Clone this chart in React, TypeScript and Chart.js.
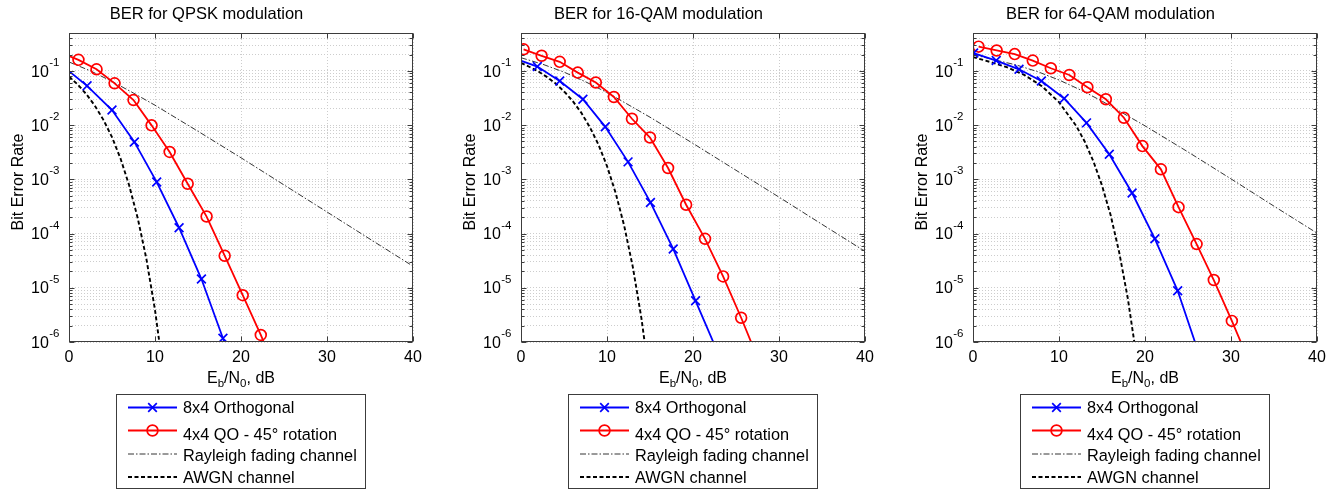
import React, { useEffect, useRef } from 'react';
import { Chart, registerables } from 'chart.js';

Chart.register(...registerables);

const FONT = '"Liberation Sans", Arial, Helvetica, sans-serif';

// ---------- QPSK ----------
const qpskTitle = 'BER for QPSK modulation';
const qpskOrthX = [-0.45, 2.1, 5.0, 7.6, 10.2, 12.8, 15.4, 17.9, 20.5];
const qpskOrthY = [0.113, 0.053, 0.019, 0.0049, 8.9e-4, 1.28e-4, 1.45e-5, 1.17e-6, 8e-8];
const qpskQoX = [-1.0, 1.1, 3.2, 5.3, 7.5, 9.6, 11.7, 13.8, 16.0, 18.1, 20.2, 22.3, 24.4];
const qpskQoY = [0.22, 0.16, 0.107, 0.059, 0.029, 0.0099, 0.0032, 8.3e-4, 2.06e-4, 3.9e-5, 7.3e-6, 1.35e-6, 2.2e-7];
const qpskRayX = [0, 2.5, 5, 7.5, 10, 15, 20, 25, 30, 35, 40];
const qpskRayY = [0.146, 0.1, 0.064, 0.039, 0.0233, 0.0077, 0.0025, 7.9e-4, 2.5e-4, 7.9e-5, 2.5e-5];
const qpskAwgnX = [0, 1, 2, 3, 4, 5, 6, 7, 8, 9, 10, 11];
const qpskAwgnY = [0.0786, 0.0563, 0.0375, 0.0229, 0.0125, 0.006, 0.0024, 7.7e-4, 1.9e-4, 3.4e-5, 3.9e-6, 2.6e-7];

// ---------- 16-QAM ----------
const qam16Title = 'BER for 16-QAM modulation';
const qam16OrthX = [-0.75, 1.9, 4.5, 7.2, 9.8, 12.45, 15.05, 17.7, 20.3, 22.9];
const qam16OrthY = [0.17, 0.12, 0.065, 0.03, 0.0093, 0.0021, 3.75e-4, 5.2e-5, 5.75e-6, 6.3e-7];
const qam16QoX = [0.3, 2.4, 4.5, 6.6, 8.7, 10.8, 12.9, 15.0, 17.1, 19.2, 21.4, 23.5, 25.6, 27.7];
const qam16QoY = [0.25, 0.19, 0.147, 0.093, 0.061, 0.033, 0.0131, 0.0059, 0.00162, 3.4e-4, 8.0e-5, 1.62e-5, 2.8e-6, 4.3e-7];
const qam16RayX = [0, 2.5, 5, 7.5, 10, 15, 20, 25, 30, 35, 40];
const qam16RayY = [0.175, 0.133, 0.095, 0.063, 0.04, 0.014, 0.0046, 0.00147, 4.7e-4, 1.48e-4, 4.7e-5];
const qam16AwgnX = [0, 1, 2, 3, 4, 5, 6, 7, 8, 9, 10, 11, 12, 13, 14, 15];
const qam16AwgnY = [0.14, 0.118, 0.098, 0.0775, 0.059, 0.0419, 0.028, 0.017, 0.0092, 0.00439, 0.00176, 5.65e-4, 1.39e-4, 2.43e-5, 2.76e-6, 1.84e-7];

// ---------- 64-QAM ----------
const qam64Title = 'BER for 64-QAM modulation';
const qam64OrthX = [0.07, 2.7, 5.35, 7.95, 10.6, 13.2, 15.85, 18.5, 21.15, 23.8, 26.45];
const qam64OrthY = [0.213, 0.155, 0.107, 0.065, 0.031, 0.011, 0.0029, 5.6e-4, 8.0e-5, 8.8e-6, 5e-7];
const qam64QoX = [0.65, 2.75, 4.85, 6.95, 9.05, 11.2, 13.3, 15.45, 17.55, 19.7, 21.85, 23.9, 26.0, 28.0, 30.1, 32.2];
const qam64QoY = [0.28, 0.238, 0.204, 0.155, 0.112, 0.084, 0.05, 0.03, 0.0137, 0.0041, 0.00153, 3.07e-4, 6.4e-5, 1.39e-5, 2.45e-6, 4e-7];
const qam64RayX = [0, 2.5, 5, 7.5, 10, 12.5, 15, 20, 25, 30, 35, 40];
const qam64RayY = [0.2, 0.16, 0.129, 0.097, 0.068, 0.0446, 0.0277, 0.0097, 0.0032, 0.00102, 3.2e-4, 1.02e-4];
const qam64AwgnX = [0, 2, 4, 6, 8, 10, 12, 13, 14, 15, 16, 17, 18, 19];
const qam64AwgnY = [0.18, 0.146, 0.116, 0.0835, 0.0523, 0.0265, 0.0097, 0.00495, 0.00215, 7.7e-4, 2.2e-4, 4.5e-5, 6.4e-6, 5.5e-7];

// ---------- shared labels / axes ----------
const legendLabels = ['8x4 Orthogonal', '4x4 QO - 45° rotation', 'Rayleigh fading channel', 'AWGN channel'];
const yAxisTitle = 'Bit Error Rate';
const xTickValues = [0, 10, 20, 30, 40];
const yDecadeExps = [-6, -5, -4, -3, -2, -1];
const yMinorMultipliers = [1, 2, 3, 4, 5, 6, 7, 8, 9];
const xMin = 0;
const xMax = 40;
const yMin = 1e-6;
const yMax = 0.5;

const panels = [
  { title: qpskTitle, orth: [qpskOrthX, qpskOrthY], qo: [qpskQoX, qpskQoY], ray: [qpskRayX, qpskRayY], awgn: [qpskAwgnX, qpskAwgnY] },
  { title: qam16Title, orth: [qam16OrthX, qam16OrthY], qo: [qam16QoX, qam16QoY], ray: [qam16RayX, qam16RayY], awgn: [qam16AwgnX, qam16AwgnY] },
  { title: qam64Title, orth: [qam64OrthX, qam64OrthY], qo: [qam64QoX, qam64QoY], ray: [qam64RayX, qam64RayY], awgn: [qam64AwgnX, qam64AwgnY] },
];

const CANVAS_W = 436;
const CANVAS_H = 489;
const PANEL_LEFTS = [0, 452, 904];

const BLUE = '#0000ff';
const RED = '#ff0000';
const RAY_COLOR = '#1e1e1e';
const AWGN_COLOR = '#000000';
const GRID_COLOR = '#cdcdcd';
const AXIS_COLOR = '#3c3c3c';

const styles = [
  { color: BLUE, width: 1.8, dash: [] as number[], marker: 'x' },
  { color: RED, width: 1.8, dash: [] as number[], marker: 'o' },
  { color: RAY_COLOR, width: 0.9, dash: [6, 2, 1.5, 2], marker: '' },
  { color: AWGN_COLOR, width: 1.9, dash: [4, 2.5], marker: '' },
];

function pts(xs: number[], ys: number[]) {
  return xs.map((x, i) => ({ x, y: ys[i] }));
}

function yGridTicks() {
  const t: { value: number }[] = [];
  yDecadeExps.forEach((e) => {
    yMinorMultipliers.forEach((m) => {
      const v = m * Math.pow(10, e);
      if (v <= yMax * 1.0000001) t.push({ value: v });
    });
  });
  return t;
}

function drawMarker(ctx: CanvasRenderingContext2D, kind: string, x: number, y: number, color: string) {
  ctx.save();
  ctx.strokeStyle = color;
  ctx.lineWidth = 1.7;
  ctx.setLineDash([]);
  if (kind === 'x') {
    const r = 4.3;
    ctx.beginPath();
    ctx.moveTo(x - r, y - r);
    ctx.lineTo(x + r, y + r);
    ctx.moveTo(x - r, y + r);
    ctx.lineTo(x + r, y - r);
    ctx.stroke();
  } else if (kind === 'o') {
    ctx.beginPath();
    ctx.arc(x, y, 5.4, 0, Math.PI * 2);
    ctx.stroke();
  }
  ctx.restore();
}

function makeDecorPlugin() {
  return {
    id: 'matlabDecor',
    afterDraw(chart: any) {
      const ctx: CanvasRenderingContext2D = chart.ctx;
      const a = chart.chartArea;
      const xs = chart.scales.x;
      const ys = chart.scales.y;
      ctx.save();

      // axes box
      const L = Math.round(a.left) + 0.5;
      const R = Math.round(a.right) - 0.5;
      const T = Math.round(a.top) + 0.5;
      const B = Math.round(a.bottom) - 0.5;
      ctx.strokeStyle = AXIS_COLOR;
      ctx.lineWidth = 1;
      ctx.setLineDash([]);
      ctx.strokeRect(L, T, R - L, B - T);

      // inward ticks
      ctx.beginPath();
      yGridTicks().forEach((t) => {
        const y = Math.round(ys.getPixelForValue(t.value)) + 0.5;
        const major = Math.abs(Math.log10(t.value) - Math.round(Math.log10(t.value))) < 1e-9;
        const len = major ? 5 : 3;
        ctx.moveTo(L, y);
        ctx.lineTo(L + len, y);
        ctx.moveTo(R, y);
        ctx.lineTo(R - len, y);
      });
      xTickValues.forEach((v) => {
        const x = Math.round(xs.getPixelForValue(v)) + 0.5;
        ctx.moveTo(x, B);
        ctx.lineTo(x, B - 5);
        ctx.moveTo(x, T);
        ctx.lineTo(x, T + 5);
      });
      ctx.stroke();

      // y tick labels 10^e
      ctx.fillStyle = '#000';
      ctx.textBaseline = 'alphabetic';
      ctx.textAlign = 'right';
      yDecadeExps.forEach((e) => {
        const y = ys.getPixelForValue(Math.pow(10, e));
        const sup = String(e);
        ctx.font = `11.5px ${FONT}`;
        const supW = ctx.measureText(sup).width;
        const right = a.left - 9.5;
        ctx.fillText(sup, right, y - 5);
        ctx.font = `16px ${FONT}`;
        ctx.fillText('10', right - supW - 0.5, y + 5.7);
      });

      // y axis title
      ctx.save();
      ctx.translate(19, 182);
      ctx.rotate(-Math.PI / 2);
      ctx.textAlign = 'center';
      ctx.textBaseline = 'middle';
      ctx.font = `16px ${FONT}`;
      ctx.fillText(yAxisTitle, 0, 0);
      ctx.restore();

      // x axis title E_b/N_0, dB
      const parts: [string, boolean][] = [['E', false], ['b', true], ['/N', false], ['0', true], [', dB', false]];
      let total = 0;
      const widths = parts.map(([s, sub]) => {
        ctx.font = sub ? `11.5px ${FONT}` : `16px ${FONT}`;
        const w = ctx.measureText(s).width;
        total += w;
        return w;
      });
      let cx = (a.left + a.right) / 2 - total / 2;
      ctx.textAlign = 'left';
      ctx.textBaseline = 'alphabetic';
      parts.forEach(([s, sub], i) => {
        ctx.font = sub ? `11.5px ${FONT}` : `16px ${FONT}`;
        ctx.fillText(s, cx, sub ? 387 : 382.5);
        cx += widths[i];
      });

      // legend box
      const lx = 116.5;
      const ly = 394.5;
      const lw = 249;
      const lh = 94;
      ctx.fillStyle = '#fff';
      ctx.fillRect(lx, ly, lw, lh);
      ctx.strokeStyle = AXIS_COLOR;
      ctx.lineWidth = 1;
      ctx.setLineDash([]);
      ctx.strokeRect(lx, ly, lw, lh);
      const rows = [
        { lineY: 407.5, textY: 407.5 },
        { lineY: 430.5, textY: 434 },
        { lineY: 454, textY: 455 },
        { lineY: 477, textY: 477 },
      ];
      rows.forEach((r, i) => {
        const st = styles[i];
        ctx.save();
        ctx.strokeStyle = st.color;
        ctx.lineWidth = st.width;
        ctx.setLineDash(st.dash);
        ctx.beginPath();
        ctx.moveTo(128, r.lineY);
        ctx.lineTo(177, r.lineY);
        ctx.stroke();
        ctx.restore();
        if (st.marker) drawMarker(ctx, st.marker, 152.5, r.lineY, st.color);
        ctx.fillStyle = '#000';
        ctx.font = `16.3px ${FONT}`;
        ctx.textAlign = 'left';
        ctx.textBaseline = 'alphabetic';
        ctx.fillText(legendLabels[i], 183, r.textY + 5.8);
      });

      ctx.restore();
    },
  };
}

function Panel({ idx }: { idx: number }) {
  const ref = useRef<HTMLCanvasElement>(null);
  useEffect(() => {
    const p = panels[idx];
    const chart = new Chart(ref.current as HTMLCanvasElement, {
      type: 'line',
      data: {
        datasets: [
          {
            label: legendLabels[0],
            data: pts(p.orth[0], p.orth[1]),
            borderColor: BLUE,
            backgroundColor: BLUE,
            borderWidth: styles[0].width,
            pointStyle: 'crossRot',
            pointRadius: 6.2,
            pointBorderWidth: 1.7,
            pointBorderColor: BLUE,
            fill: false,
            tension: 0,
          },
          {
            label: legendLabels[1],
            data: pts(p.qo[0], p.qo[1]),
            borderColor: RED,
            backgroundColor: 'rgba(0,0,0,0)',
            borderWidth: styles[1].width,
            pointStyle: 'circle',
            pointRadius: 5.4,
            pointBorderWidth: 1.7,
            pointBorderColor: RED,
            pointBackgroundColor: 'rgba(0,0,0,0)',
            fill: false,
            tension: 0,
          },
          {
            label: legendLabels[2],
            data: pts(p.ray[0], p.ray[1]),
            borderColor: RAY_COLOR,
            borderWidth: styles[2].width,
            borderDash: styles[2].dash,
            pointRadius: 0,
            fill: false,
            tension: 0,
          },
          {
            label: legendLabels[3],
            data: pts(p.awgn[0], p.awgn[1]),
            borderColor: AWGN_COLOR,
            borderWidth: styles[3].width,
            borderDash: styles[3].dash,
            pointRadius: 0,
            fill: false,
            tension: 0,
          },
        ],
      },
      options: {
        responsive: false,
        animation: false,
        events: [],
        layout: { padding: { left: 0, right: 23, top: 0, bottom: 0 } },
        plugins: {
          legend: { display: false },
          tooltip: { enabled: false },
          title: {
            display: true,
            text: p.title,
            color: '#000',
            font: { family: FONT, size: 16.5, weight: 'normal' },
            padding: { top: 5, bottom: 8.2 },
          },
        },
        scales: {
          x: {
            type: 'linear',
            min: xMin,
            max: xMax,
            afterBuildTicks: (s: any) => {
              s.ticks = xTickValues.map((v) => ({ value: v }));
            },
            afterFit: (s: any) => {
              s.height = 147;
            },
            ticks: {
              color: '#000',
              font: { family: FONT, size: 16 },
              padding: 6,
              maxRotation: 0,
              autoSkip: false,
            },
            grid: { color: GRID_COLOR, lineWidth: 1, drawTicks: false },
            border: { display: false, dash: [1, 2] },
          },
          y: {
            type: 'logarithmic',
            min: yMin,
            max: yMax,
            afterBuildTicks: (s: any) => {
              s.ticks = yGridTicks();
            },
            afterFit: (s: any) => {
              s.width = 69;
            },
            ticks: { display: false },
            grid: { color: GRID_COLOR, lineWidth: 1, drawTicks: false },
            border: { display: false, dash: [1, 2] },
          },
        },
      } as any,
      plugins: [makeDecorPlugin()],
    });
    return () => chart.destroy();
  }, [idx]);
  return (
    <canvas
      ref={ref}
      width={CANVAS_W}
      height={CANVAS_H}
      style={{ position: 'absolute', left: PANEL_LEFTS[idx], top: 0, width: CANVAS_W, height: CANVAS_H }}
    />
  );
}

export default function App() {
  return (
    <div style={{ position: 'fixed', left: 0, top: 0, width: 1340, height: 489, background: '#fff', overflow: 'hidden' }}>
      {panels.map((_, i) => (
        <Panel key={i} idx={i} />
      ))}
    </div>
  );
}
